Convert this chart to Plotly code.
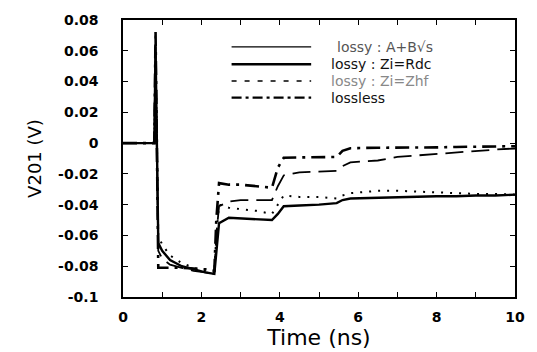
import plotly.graph_objects as go

# ---- data ----
time_ns = [0, 0.80, 0.83, 0.86, 0.90, 1.0, 1.2, 1.5, 1.8, 2.1, 2.33, 2.38, 2.45, 2.7, 3.0, 3.4,
           3.8, 3.95, 4.1, 4.5, 5.0, 5.45, 5.6, 5.8, 6.5, 7.0, 7.5, 8.0, 8.5, 9.0, 9.5, 10.0]

v_abs = [0, 0, 0.060, 0.0, -0.060, -0.066, -0.073, -0.078, -0.081, -0.083, -0.085, -0.060, -0.040,
         -0.042, -0.043, -0.044, -0.046, -0.040, -0.034, -0.035, -0.035, -0.036, -0.034, -0.0325,
         -0.031, -0.031, -0.0315, -0.032, -0.0325, -0.033, -0.033, -0.0335]

v_rdc = [0, 0, 0.063, 0.0, -0.065, -0.070, -0.076, -0.080, -0.082, -0.084, -0.085, -0.070, -0.052,
         -0.0485, -0.049, -0.0495, -0.050, -0.046, -0.041, -0.0405, -0.040, -0.039, -0.037, -0.036,
         -0.0355, -0.035, -0.035, -0.0345, -0.0345, -0.034, -0.034, -0.0335]

v_zhf = [0, 0, 0.060, 0.0, -0.070, -0.075, -0.079, -0.081, -0.083, -0.084, -0.085, -0.060, -0.041,
         -0.038, -0.037, -0.037, -0.037, -0.028, -0.021, -0.019, -0.0185, -0.018, -0.015, -0.0125,
         -0.0113, -0.009, -0.008, -0.007, -0.006, -0.005, -0.0042, -0.0035]

v_lossless = [0, 0, 0.073, 0.0, -0.081, -0.081, -0.081, -0.081, -0.0815, -0.082, -0.083, -0.050,
              -0.026, -0.027, -0.027, -0.028, -0.029, -0.016, -0.0095, -0.0093, -0.009, -0.009,
              -0.005, -0.0033, -0.003, -0.003, -0.003, -0.0028, -0.0025, -0.0023, -0.002, -0.002]

series_names = ["lossy : A+B\u221as", "lossy : Zi=Rdc", "lossy : Zi=Zhf", "lossless"]

x_tickvals = [0, 1, 2, 3, 4, 5, 6, 7, 8, 9, 10]
x_ticktext = ["0", "", "2", "", "4", "", "6", "", "8", "", "10"]
y_tickvals = [0.08, 0.06, 0.04, 0.02, 0, -0.02, -0.04, -0.06, -0.08, -0.1]
y_ticktext = ["0.08", "0.06", "0.04", "0.02", "0", "-0.02", "-0.04", "-0.06", "-0.08", "-0.1"]

# ---- styles ----
plot_dash = ["2px,7px", "solid", "18px,8px", "14px,6px,3px,6px"]
plot_width = [2.0, 2.4, 1.8, 2.6]
legend_dash = ["solid", "solid", "5px,8px", "10px,4px,3px,4px"]
legend_width = [1.2, 2.4, 1.6, 2.2]
legend_text_color = ["#555", "#111", "#888", "#111"]
FONT = "DejaVu Sans, Verdana, sans-serif"

fig = go.Figure()
for vals, name, dash, w in zip([v_abs, v_rdc, v_zhf, v_lossless], series_names, plot_dash, plot_width):
    fig.add_trace(go.Scatter(x=time_ns, y=vals, mode="lines", name=name, showlegend=False,
                             line=dict(color="black", width=w, dash=dash)))

# manual legend (long line samples like the reference)
row_y = [0.903, 0.840, 0.780, 0.720]
text_x = [0.54, 0.525, 0.525, 0.525]
shapes = []
annotations = []
for i, name in enumerate(series_names):
    shapes.append(dict(type="line", xref="paper", yref="paper", x0=0.277, x1=0.480,
                       y0=row_y[i], y1=row_y[i],
                       line=dict(color="black", width=legend_width[i], dash=legend_dash[i])))
    annotations.append(dict(xref="paper", yref="paper", x=text_x[i], y=row_y[i], text=name,
                            showarrow=False, xanchor="left", yanchor="middle",
                            font=dict(family=FONT, size=14, color=legend_text_color[i])))

axis_common = dict(showline=True, linecolor="black", linewidth=1.5, mirror="ticks",
                   ticks="inside", ticklen=5, tickcolor="black", showgrid=False, zeroline=False,
                   tickfont=dict(family=FONT, size=14, color="black", weight="bold"))

fig.update_layout(
    width=537, height=352,
    margin=dict(l=123, r=20, t=13, b=47),
    paper_bgcolor="white", plot_bgcolor="white",
    showlegend=False,
    shapes=shapes, annotations=annotations,
    xaxis=dict(range=[0, 10], tickvals=x_tickvals, ticktext=x_ticktext,
               title=dict(text="Time (ns)", standoff=0,
                          font=dict(family=FONT, size=22, color="black")),
               ticklabelstandoff=6, **axis_common),
    yaxis=dict(range=[-0.1, 0.08], tickvals=y_tickvals, ticktext=y_ticktext,
               title=dict(text="V201 (V)", standoff=12,
                          font=dict(family=FONT, size=18, color="black")),
               ticklabelstandoff=20, **axis_common),
)

fig.write_html("out.html")
